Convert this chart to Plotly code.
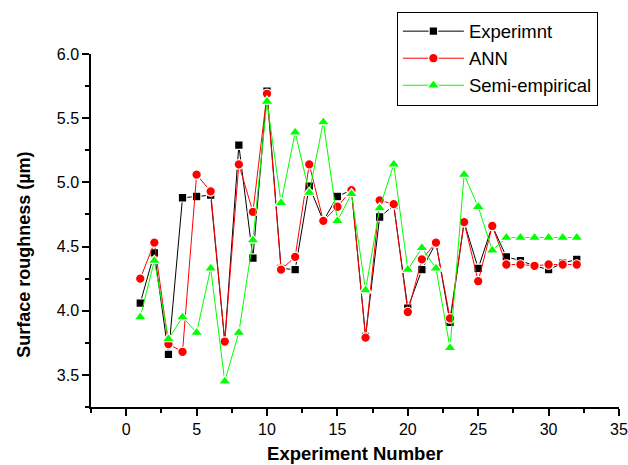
import plotly.graph_objects as go

experiment_no = list(range(1, 33))
experiment = [4.06, 4.45, 3.66, 4.88, 4.89, 4.90, 3.76, 5.29, 4.41, 5.71,
              4.33, 4.32, 4.97, 4.70, 4.89, 4.94, 3.80, 4.73, 4.82, 4.02,
              4.32, 4.53, 3.91, 4.69, 4.33, 4.66, 4.42, 4.39, 4.35, 4.32,
              4.37, 4.40]
ann = [4.25, 4.53, 3.74, 3.68, 5.06, 4.93, 3.76, 5.14, 4.77, 5.69,
       4.32, 4.42, 5.14, 4.70, 4.81, 4.94, 3.79, 4.86, 4.83, 3.99,
       4.40, 4.53, 3.94, 4.69, 4.23, 4.66, 4.36, 4.36, 4.35, 4.36,
       4.36, 4.36]
semi_empirical = [3.95, 4.39, 3.78, 3.95, 3.83, 4.33, 3.45, 3.83, 4.55, 5.63,
                  4.84, 5.39, 4.92, 5.47, 4.70, 4.91, 4.16, 4.80, 5.14, 4.32,
                  4.49, 4.33, 3.71, 5.06, 4.81, 4.47, 4.57, 4.57, 4.57, 4.57,
                  4.57, 4.57]

x_ticks = [0, 5, 10, 15, 20, 25, 30, 35]
y_ticks = [3.5, 4.0, 4.5, 5.0, 5.5, 6.0]

FONT = "Liberation Sans, Arial, sans-serif"

fig = go.Figure()
fig.add_trace(go.Scatter(
    x=experiment_no, y=experiment, name="Experimnt", mode="lines+markers",
    line=dict(color="black", width=1),
    marker=dict(symbol="square", size=8.5, color="black",
                line=dict(color="white", width=1.2))))
fig.add_trace(go.Scatter(
    x=experiment_no, y=ann, name="ANN", mode="lines+markers",
    line=dict(color="#ff0000", width=1),
    marker=dict(symbol="circle", size=9.5, color="#ff0000",
                line=dict(color="white", width=1.2))))
fig.add_trace(go.Scatter(
    x=experiment_no, y=semi_empirical, name="Semi-empirical", mode="lines+markers",
    line=dict(color="#00ff00", width=1),
    marker=dict(symbol="triangle-up", size=11, color="#00ff00",
                line=dict(color="white", width=1.2))))

axis_common = dict(
    showline=True, linecolor="black", linewidth=1.5, mirror=False,
    showgrid=False, zeroline=False, automargin=False,
    ticks="outside", ticklen=7, tickwidth=1.5, tickcolor="black",
    tickfont=dict(family=FONT, size=16, color="black"),
)

fig.update_layout(
    width=628, height=465,
    margin=dict(l=91, r=9, t=54, b=58, autoexpand=False),
    paper_bgcolor="white", plot_bgcolor="white",
    font=dict(family=FONT, color="black"),
    xaxis=dict(
        range=[-2.5, 35], tickvals=x_ticks,
        ticktext=[str(v) for v in x_ticks],
        minor=dict(dtick=2.5, tick0=0, ticks="outside", ticklen=4,
                   tickwidth=1.5, tickcolor="black", showgrid=False),
        title=dict(text="<b>Experiment Number</b>", standoff=10,
                   font=dict(family=FONT, size=18.5, color="black")),
        **axis_common),
    yaxis=dict(
        range=[3.25, 6.0], tickvals=y_ticks,
        ticktext=[f"{v:.1f}" for v in y_ticks],
        minor=dict(dtick=0.25, tick0=3.5, ticks="outside", ticklen=4,
                   tickwidth=1.5, tickcolor="black", showgrid=False),
        **axis_common),
    annotations=[dict(
        text="<b>Surface roughness (µm)</b>", textangle=-90,
        xref="paper", yref="paper", x=-0.127, y=0.431,
        xanchor="center", yanchor="middle", showarrow=False,
        font=dict(family=FONT, size=18, color="black"))],
    legend=dict(
        xref="container", yref="container",
        x=0.632, y=0.975, xanchor="left", yanchor="top",
        bgcolor="white", bordercolor="black", borderwidth=1,
        font=dict(family=FONT, size=18.5, color="black"),
        itemwidth=61, tracegroupgap=0),
    showlegend=True,
)

fig.write_html("out.html", config={"displayModeBar": False},
               post_script="document.body.style.margin='0';")
